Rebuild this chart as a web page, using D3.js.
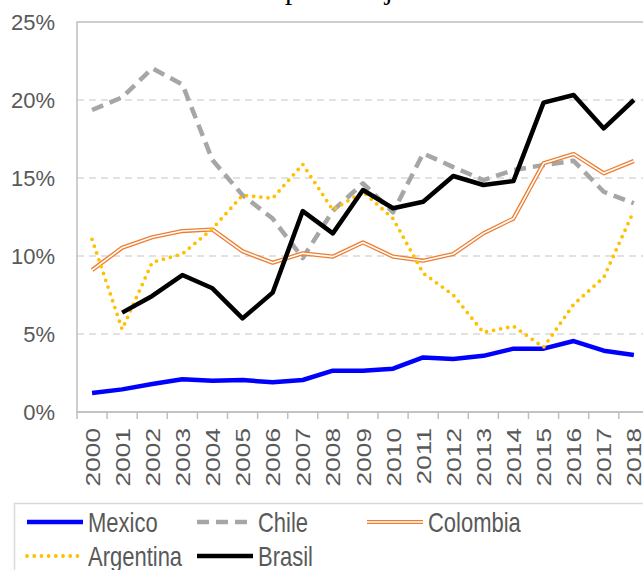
<!DOCTYPE html>
<html>
<head>
<meta charset="utf-8">
<script src="https://cdn.jsdelivr.net/npm/d3@7"></script>
<style>
  html, body { margin: 0; padding: 0; background: #fff; }
  svg { display: block; }
</style>
</head>
<body>
<div id="chart"></div>
<script>
// Años del eje horizontal
const years = ["2000","2001","2002","2003","2004","2005","2006","2007","2008","2009",
               "2010","2011","2012","2013","2014","2015","2016","2017","2018"];

// Series en porcentaje (null = sin dato)
const mexico    = [1.22, 1.45, 1.8, 2.1, 2.0, 2.05, 1.9, 2.05, 2.65, 2.65, 2.78, 3.5, 3.4, 3.6, 4.06, 4.06, 4.55, 3.93, 3.65];
const chile     = [19.36, 20.17, 22.03, 21.0, 16.15, 13.9, 12.4, 9.87, 12.9, 14.66, 12.8, 16.58, 15.7, 14.87, 15.5, 15.83, 16.1, 14.12, 13.38];
const colombia  = [9.1, 10.53, 11.2, 11.6, 11.7, 10.3, 9.57, 10.17, 9.96, 10.87, 9.96, 9.7, 10.13, 11.45, 12.4, 15.94, 16.54, 15.3, 16.09];
const argentina = [11.07, 5.3, 9.6, 10.13, 11.75, 13.9, 13.7, 15.88, 12.95, 14.12, 12.4, 8.9, 7.5, 5.1, 5.5, 4.15, 6.9, 8.63, 12.9];
const brasil    = [null, 6.37, 7.44, 8.78, 7.93, 6.0, 7.65, 12.88, 11.45, 14.23, 13.06, 13.48, 15.13, 14.55, 14.8, 19.83, 20.32, 18.18, 20.0];

const yTicks = [0, 5, 10, 15, 20, 25];
const titleText = "porcentajes";

const W = 643, H = 570;
const plot = { left: 77, top: 22, bottom: 412, step: 30.1 };

const svg = d3.select("#chart").append("svg")
  .attr("width", W).attr("height", H);

const x = d3.scaleBand().domain(years)
  .range([plot.left, plot.left + plot.step * years.length]).padding(0);
const y = d3.scaleLinear().domain([0, 25]).range([plot.bottom, plot.top]);
const cx = d => x(d) + x.bandwidth() / 2;

// Título (recortado por el borde superior)
svg.append("text")
  .attr("x", 351).attr("y", -1.5)
  .attr("text-anchor", "middle")
  .attr("font-family", "'Liberation Serif', 'Times New Roman', serif")
  .attr("font-size", 29)
  .attr("fill", "#000")
  .text(titleText);

// Líneas de cuadrícula
svg.append("g")
  .selectAll("line")
  .data(yTicks.filter(t => t > 0 && t < 25))
  .join("line")
  .attr("x1", plot.left).attr("x2", x.range()[1])
  .attr("y1", d => y(d)).attr("y2", d => y(d))
  .attr("stroke", "#d9d9d9").attr("stroke-width", 1.5)
  .attr("stroke-dasharray", "7,5");

// Marco del área de trazado
svg.append("rect")
  .attr("x", plot.left).attr("y", plot.top)
  .attr("width", x.range()[1] - plot.left).attr("height", plot.bottom - plot.top)
  .attr("fill", "none").attr("stroke", "#bfbfbf").attr("stroke-width", 1.5);

// Eje Y
const yAxis = d3.axisLeft(y).tickValues(yTicks).tickFormat(d => d + "%").tickSize(0).tickPadding(22);
const gy = svg.append("g").attr("transform", `translate(${plot.left},0)`).call(yAxis);
gy.select(".domain").remove();
gy.selectAll("text")
  .attr("font-family", "'Liberation Sans', Arial, sans-serif")
  .attr("font-size", 22)
  .attr("fill", "#595959");

// Eje X con marcas entre categorías
const gx = svg.append("g").attr("transform", `translate(0,${plot.bottom})`);
gx.append("line")
  .attr("x1", plot.left).attr("x2", x.range()[1])
  .attr("stroke", "#bfbfbf").attr("stroke-width", 1.5);
gx.selectAll(".tk")
  .data(years.concat(["end"]))
  .join("line")
  .attr("class", "tk")
  .attr("x1", (d, i) => plot.left + i * x.step())
  .attr("x2", (d, i) => plot.left + i * x.step())
  .attr("y1", 0).attr("y2", 7)
  .attr("stroke", "#bfbfbf").attr("stroke-width", 1.5);
gx.selectAll(".lbl")
  .data(years)
  .join("text")
  .attr("class", "lbl")
  .attr("transform", d => `translate(${cx(d)},16) rotate(-90) scale(1.25,1)`)
  .attr("text-anchor", "end")
  .attr("dy", "0.36em")
  .attr("font-family", "'Liberation Sans', Arial, sans-serif")
  .attr("font-size", 21)
  .attr("fill", "#595959")
  .text(d => d);

// Series
const line = d3.line()
  .defined(d => d.v != null)
  .x(d => cx(d.year))
  .y(d => y(d.v));
const toPts = arr => years.map((yr, i) => ({ year: yr, v: arr[i] }));

const series = [
  { name: "Mexico",    data: mexico },
  { name: "Chile",     data: chile },
  { name: "Colombia",  data: colombia },
  { name: "Argentina", data: argentina },
  { name: "Brasil",    data: brasil }
];

const styles = {
  Mexico:    [{ stroke: "#0000ff", width: 4.5 }],
  Chile:     [{ stroke: "#a6a6a6", width: 4.5, dash: "12,7" }],
  Colombia:  [{ stroke: "#ed7d31", width: 4.2 }, { stroke: "#ffffff", width: 1.6 }],
  Argentina: [{ stroke: "#ffc000", width: 3.8, dash: "0,7.2", cap: "round" }],
  Brasil:    [{ stroke: "#000000", width: 4.5 }]
};

const gl = svg.append("g");
series.forEach(s => {
  styles[s.name].forEach(st => {
    gl.append("path")
      .datum(toPts(s.data))
      .attr("d", line)
      .attr("fill", "none")
      .attr("stroke", st.stroke)
      .attr("stroke-width", st.width)
      .attr("stroke-dasharray", st.dash || null)
      .attr("stroke-linecap", st.cap || "butt")
      .attr("stroke-linejoin", "round");
  });
});

// Leyenda
svg.append("rect")
  .attr("x", 14.5).attr("y", 503.5)
  .attr("width", 660).attr("height", 100)
  .attr("fill", "#fff").attr("stroke", "#d9d9d9").attr("stroke-width", 1.5);

const legendPos = {
  Mexico:    { x: 27,  y: 522 },
  Chile:     { x: 197, y: 522 },
  Colombia:  { x: 367, y: 522 },
  Argentina: { x: 27,  y: 556 },
  Brasil:    { x: 197, y: 556 }
};
series.forEach(s => {
  const p = legendPos[s.name];
  const g = svg.append("g").attr("transform", `translate(${p.x},${p.y})`);
  styles[s.name].forEach(st => {
    g.append("line")
      .attr("x1", 0).attr("x2", 56)
      .attr("stroke", st.stroke)
      .attr("stroke-width", st.width)
      .attr("stroke-dasharray", st.dash || null)
      .attr("stroke-linecap", st.cap || "butt");
  });
  g.append("text")
    .attr("transform", "translate(61,0) scale(1,1.22)")
    .attr("dy", "0.36em")
    .attr("font-family", "'Liberation Sans', Arial, sans-serif")
    .attr("font-size", 22)
    .attr("fill", "#595959")
    .text(s.name);
});
</script>
</body>
</html>
